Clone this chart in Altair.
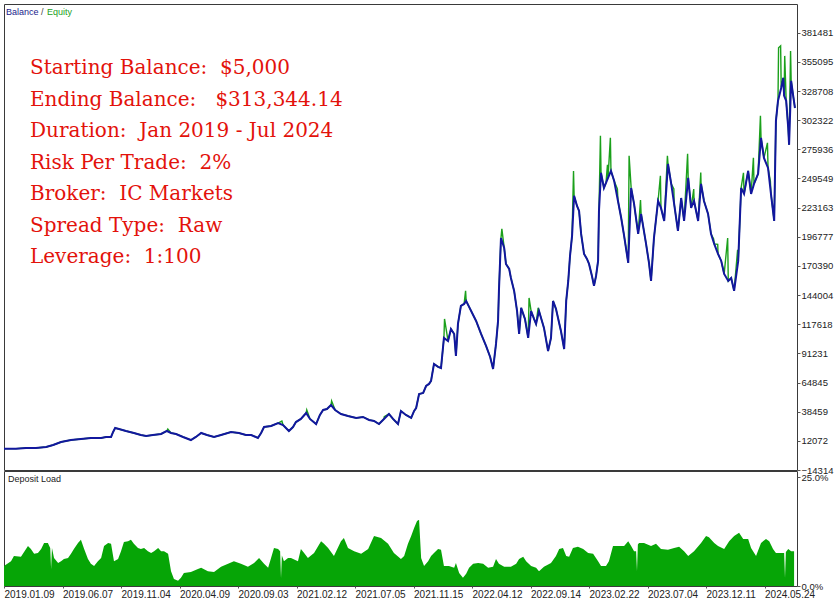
import altair as alt
import pandas as pd

# ---- data (x = trade number, y = account value in $) ----
balance_points = [
    (0, 5000), (41, 5000), (75, 5600), (109, 5600), (144, 6500), (168, 8300), (195, 11000),
    (229, 12800), (263, 13800), (297, 14700), (332, 14700), (349, 15600), (366, 15600),
    (373, 20100), (380, 23700), (393, 22800), (417, 21000), (444, 19200), (468, 17400),
    (486, 16500), (509, 17400), (537, 18300), (557, 21000), (571, 19200), (588, 18300),
    (612, 15600), (639, 12800), (656, 15600), (674, 19200), (694, 17400), (718, 15600),
    (742, 17400), (776, 20100), (803, 19200), (827, 17400), (845, 17400), (868, 14700),
    (879, 19200), (889, 24600), (913, 25500), (937, 28200), (954, 26400), (974, 21000),
    (988, 24600), (998, 29100), (1015, 31900), (1033, 37300), (1046, 31900), (1067, 27300),
    (1080, 35500), (1091, 40000), (1104, 40900), (1118, 44500), (1132, 40000), (1152, 36400),
    (1176, 34600), (1204, 32800), (1227, 33700), (1248, 31000), (1265, 30100), (1282, 27300),
    (1299, 31900), (1316, 36400), (1330, 31900), (1347, 27300), (1357, 39100), (1374, 35500),
    (1392, 32800), (1402, 39100), (1409, 41800), (1419, 54500), (1433, 55400), (1443, 61700),
    (1453, 63600), (1460, 66300), (1470, 81700), (1484, 79000), (1494, 78000), (1504, 105200),
    (1518, 102500), (1528, 113300), (1539, 108800), (1545, 88900), (1552, 117900),
    (1562, 134200), (1573, 136000), (1580, 138700), (1590, 133300), (1597, 129600),
    (1614, 120600), (1631, 108800), (1648, 98000), (1662, 88000), (1672, 77100),
    (1682, 99800), (1689, 120600), (1692, 147800), (1699, 195700), (1710, 186700),
    (1716, 172200), (1727, 167700), (1733, 159500), (1744, 147800), (1754, 129600),
    (1761, 108800), (1768, 132400), (1781, 122400), (1792, 105200), (1802, 129600),
    (1812, 122400), (1819, 117900), (1829, 129600), (1846, 114300), (1860, 93400),
    (1870, 105200), (1877, 138700), (1887, 131500), (1894, 123300), (1904, 111500),
    (1915, 95200), (1922, 138700), (1929, 156800), (1935, 179400), (1942, 197600),
    (1949, 233800), (1959, 224700), (1966, 220200), (1973, 199400), (1983, 181300),
    (1993, 176700), (2000, 172200), (2010, 161300), (2017, 152300), (2024, 161300),
    (2031, 174900), (2034, 220200), (2041, 254600), (2051, 241000), (2058, 245500),
    (2065, 250100), (2075, 256400), (2086, 247300), (2099, 229200), (2110, 213800),
    (2120, 197600), (2134, 173100), (2144, 241000), (2154, 226500), (2168, 199400),
    (2178, 217500), (2195, 190300), (2205, 173100), (2212, 156800), (2222, 195700),
    (2236, 229200), (2246, 222900), (2257, 211100), (2270, 262700), (2281, 244600),
    (2291, 226500), (2304, 202100), (2315, 231900), (2325, 211100), (2339, 250100),
    (2349, 222900), (2359, 229200), (2373, 211100), (2383, 244600), (2393, 229200),
    (2407, 217500), (2417, 199400), (2428, 190300), (2441, 181300), (2452, 174900),
    (2462, 163100), (2476, 156800), (2486, 159500), (2496, 147800), (2510, 174900),
    (2520, 241000), (2530, 235600), (2544, 256400), (2554, 235600), (2564, 244600),
    (2578, 253700), (2588, 286300), (2598, 268200), (2612, 259100), (2622, 235600),
    (2633, 211100), (2639, 301700), (2646, 319800), (2657, 331500), (2664, 340600),
    (2667, 324300), (2674, 319800), (2681, 295300), (2684, 280000), (2691, 337900),
    (2698, 324300), (2704, 313344),
]

# equity excursions above the balance line (floating profit peaks)
equity_spikes = [
    (560, 22800), (950, 30000), (1035, 40000), (1120, 48200), (1300, 34000), (1462, 70000),
    (1506, 122400), (1578, 147800), (1702, 203900), (1795, 141400), (1826, 132400),
    (1947, 256400), (2039, 288100), (2063, 262000), (2073, 286300), (2097, 240000),
    (2137, 270000), (2176, 230000), (2244, 251900), (2268, 270000), (2290, 240000),
    (2337, 271800), (2358, 240000), (2382, 255000), (2426, 194800), (2440, 190000),
    (2474, 195700), (2508, 185000), (2528, 254600), (2562, 268200), (2586, 306200),
    (2610, 281800), (2620, 247300), (2648, 367800), (2655, 369600), (2669, 360500),
    (2689, 365000),
]

# deposit load in %
deposit_points = [
    (0, 4.6), (24, 5.7), (34, 6.9), (58, 6.7), (82, 9.2), (92, 8.5), (103, 7.4), (116, 7.6),
    (127, 8.5), (137, 9.9), (150, 9.9), (158, 8.7), (161, 3.9), (164, 8.7), (171, 6.4),
    (185, 5.3), (195, 5.7), (205, 6.2), (219, 6.4), (229, 7.4), (239, 8.5), (253, 9.9),
    (263, 10.6), (274, 8.5), (287, 6.2), (297, 5.1), (308, 4.6), (321, 5.7), (332, 6.4),
    (342, 9.2), (356, 9.9), (366, 9.7), (376, 5.7), (390, 6.2), (400, 8.0), (410, 10.1),
    (424, 10.3), (434, 10.6), (444, 9.7), (458, 8.7), (468, 8.5), (479, 8.7), (492, 8.0),
    (503, 7.6), (513, 8.0), (527, 8.7), (537, 8.0), (547, 8.0), (561, 7.4), (571, 3.4),
    (581, 1.6), (595, 1.2), (605, 1.9), (615, 3.0), (639, 3.2), (663, 3.9), (674, 4.2),
    (697, 3.4), (718, 3.2), (742, 4.4), (766, 5.1), (786, 5.7), (810, 5.1), (834, 4.4),
    (855, 5.3), (872, 6.4), (889, 5.1), (903, 4.2), (913, 6.4), (923, 8.7), (937, 8.5),
    (944, 8.0), (947, 1.8), (950, 7.0), (957, 5.7), (971, 6.4), (981, 6.4), (1005, 5.7),
    (1015, 8.5), (1026, 7.6), (1039, 6.4), (1060, 7.6), (1084, 10.3), (1094, 9.7),
    (1108, 8.7), (1128, 6.9), (1152, 10.3), (1162, 11.0), (1176, 8.7), (1197, 8.0),
    (1221, 7.4), (1245, 8.5), (1265, 11.5), (1289, 11.0), (1313, 9.7), (1333, 7.6),
    (1357, 6.2), (1368, 6.9), (1381, 9.7), (1392, 11.5), (1402, 13.3), (1412, 14.9),
    (1419, 15.2), (1426, 6.4), (1436, 4.6), (1450, 5.7), (1460, 6.9), (1470, 7.6),
    (1484, 8.5), (1494, 8.3), (1504, 4.6), (1521, 4.6), (1539, 4.2), (1545, 5.3),
    (1556, 3.0), (1569, 1.9), (1580, 2.8), (1590, 4.2), (1604, 5.1), (1621, 5.3),
    (1638, 5.1), (1655, 4.2), (1672, 4.4), (1682, 6.2), (1692, 5.1), (1710, 4.4),
    (1733, 4.4), (1751, 5.1), (1761, 6.2), (1775, 6.7), (1785, 5.7), (1802, 4.6),
    (1819, 4.2), (1829, 3.4), (1846, 4.4), (1870, 5.3), (1887, 6.9), (1898, 8.5),
    (1911, 8.7), (1922, 6.9), (1932, 6.7), (1945, 8.7), (1962, 9.0), (1980, 8.5),
    (1997, 7.6), (2014, 7.4), (2031, 5.7), (2041, 4.6), (2058, 4.6), (2068, 5.7),
    (2082, 9.2), (2099, 9.2), (2120, 9.2), (2134, 10.3), (2144, 9.2), (2154, 8.0),
    (2161, 8.0), (2164, 3.4), (2167, 9.5), (2171, 9.9), (2188, 9.9), (2212, 9.2),
    (2229, 9.7), (2246, 8.5), (2270, 8.3), (2291, 8.7), (2308, 9.0), (2325, 8.0),
    (2339, 6.9), (2359, 8.0), (2383, 9.9), (2400, 11.5), (2410, 11.2), (2428, 9.9),
    (2441, 9.2), (2462, 8.5), (2479, 10.3), (2496, 11.5), (2513, 12.2), (2527, 10.8),
    (2544, 10.8), (2554, 8.7), (2571, 6.9), (2588, 9.9), (2605, 10.8), (2616, 10.3),
    (2629, 8.5), (2639, 7.6), (2650, 7.6), (2664, 7.6), (2667, 7.6), (2670, 1.8),
    (2673, 7.8), (2681, 8.5), (2691, 8.0), (2701, 8.0),
]

value_ticks = [-14314, 12072, 38459, 64845, 91231, 117618, 144004, 170390, 196777,
               223163, 249549, 275936, 302322, 328708, 355095, 381481]
date_labels = ["2019.01.09", "2019.06.07", "2019.11.04", "2020.04.09", "2020.09.03",
               "2021.02.12", "2021.07.05", "2021.11.15", "2022.04.12", "2022.09.14",
               "2023.02.22", "2023.07.04", "2023.12.11", "2024.05.24"]
date_tick_trades = [0, 200, 400, 600, 800, 1000, 1200, 1400, 1600, 1800, 2000, 2200, 2400, 2600]
load_ticks = [0, 25]

NB = "\u00a0"
info_lines = [
    "Starting Balance:" + NB * 2 + "$5,000",
    "Ending Balance:" + NB * 3 + "$313,344.14",
    "Duration:" + NB * 2 + "Jan 2019 - Jul 2024",
    "Risk Per Trade:" + NB * 2 + "2%",
    "Broker:" + NB * 2 + "IC Markets",
    "Spread Type:" + NB * 2 + "Raw",
    "Leverage:" + NB * 2 + "1:100",
]

# ---- tables ----
bal_df = pd.DataFrame(balance_points, columns=["trade", "value"])
eq_df = pd.concat([bal_df, pd.DataFrame(equity_spikes, columns=["trade", "value"])])
eq_df = eq_df.sort_values("trade").reset_index(drop=True)
dep_df = pd.DataFrame(deposit_points, columns=["trade", "load"])

X_DOMAIN = [0, 2711]
W = 793
FONT = "Liberation Sans"
BLUE = "#12179E"
GREEN = "#1BA01B"

x_top = alt.X("trade:Q", scale=alt.Scale(domain=X_DOMAIN, nice=False, zero=False), axis=None)
y_top = alt.Y(
    "value:Q",
    scale=alt.Scale(domain=[-14314, 407466], nice=False, zero=False),
    axis=alt.Axis(orient="right", values=value_ticks, format="d", title=None, grid=False,
                  domain=False, tickSize=3, tickColor="#555", labelPadding=1,
                  labelFont=FONT, labelFontSize=9.5, labelColor="#222", labelFlush=False,
                  labelOverlap=False),
)

equity = alt.Chart(eq_df).mark_line(color=GREEN, strokeWidth=1.4, clip=True).encode(x=x_top, y=y_top)
balance = alt.Chart(bal_df).mark_line(color=BLUE, strokeWidth=2, clip=True).encode(x=x_top, y=y_top)

dummy = pd.DataFrame({"d": [0]})
legend_layers = [
    alt.Chart(dummy).mark_text(text="Balance", color="#1A1A8C", font=FONT, fontSize=9,
                               align="left", baseline="middle").encode(x=alt.value(2), y=alt.value(8)),
    alt.Chart(dummy).mark_text(text="/", color="#444", font=FONT, fontSize=9,
                               align="left", baseline="middle").encode(x=alt.value(37), y=alt.value(8)),
    alt.Chart(dummy).mark_text(text="Equity", color="#22A022", font=FONT, fontSize=9,
                               align="left", baseline="middle").encode(x=alt.value(43), y=alt.value(8)),
]
info_layers = [
    alt.Chart(dummy).mark_text(text=line, color="#E3120B", font="DejaVu Serif", fontSize=20,
                               align="left", baseline="alphabetic")
    .encode(x=alt.value(26), y=alt.value(70 + 31.5 * i))
    for i, line in enumerate(info_lines)
]

top = alt.layer(equity, balance, *legend_layers, *info_layers).properties(width=W, height=466)

label_expr = "[" + ",".join("'" + d + "'" for d in date_labels) + "][round(datum.value / 200)]"
x_bot = alt.X(
    "trade:Q",
    scale=alt.Scale(domain=X_DOMAIN, nice=False, zero=False),
    axis=alt.Axis(values=date_tick_trades, labelExpr=label_expr, title=None, grid=False,
                  domain=False, tickSize=2, tickColor="#555", labelPadding=1, labelAlign="left",
                  labelBaseline="top", labelFont=FONT, labelFontSize=10, labelColor="#222",
                  labelFlush=False, labelOverlap=False),
)
y_bot = alt.Y(
    "load:Q",
    scale=alt.Scale(domain=[0, 26.4], nice=False, zero=True),
    axis=alt.Axis(orient="right", values=load_ticks, labelExpr="format(datum.value, '.1f') + '%'",
                  title=None, grid=False, domain=False, tickSize=3, tickColor="#555",
                  labelPadding=1, labelFont=FONT, labelFontSize=9.5, labelColor="#222",
                  labelFlush=False, labelOverlap=False),
)
load_area = alt.Chart(dep_df).mark_area(color="#06A506", opacity=1, clip=True).encode(x=x_bot, y=y_bot)
load_title = alt.Chart(dummy).mark_text(text="Deposit Load", color="#222", font=FONT, fontSize=9,
                                        align="left", baseline="middle").encode(x=alt.value(4), y=alt.value(8))
bottom = alt.layer(load_area, load_title).properties(width=W, height=115)

chart = (
    alt.vconcat(top, bottom, spacing=1, bounds="flush")
    .properties(padding={"left": 3, "top": 3, "right": 2, "bottom": 0}, background="white")
    .configure_view(stroke="#3A3A3A", strokeWidth=1)
)

chart.save("out.html", embed_options={"renderer": "svg", "actions": False})
